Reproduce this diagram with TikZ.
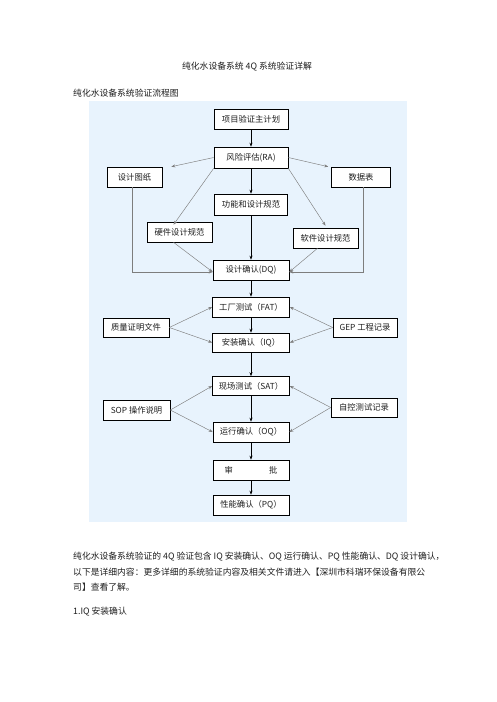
\documentclass[tikz,border=0pt]{standalone}
\usepackage{fontspec}
\setmainfont{Noto Sans CJK SC}
\usetikzlibrary{arrows.meta,calc}
\definecolor{bgblue}{RGB}{232,243,253}
\definecolor{edgegray}{RGB}{125,125,125}
\definecolor{inkc}{RGB}{30,30,30}
\begin{document}
\begin{tikzpicture}[x=1pt,y=-1pt,
  wh/.style 2 args={minimum width=#1,minimum height=#2},
  box/.style={draw=black,line width=0.6pt,fill=white,inner sep=0pt,text=inkc,font=\fontsize{8.3}{10}\selectfont},
  mainarrow/.style={-{Stealth[length=4pt,width=3pt]},line width=0.6pt,black},
  sidearrow/.style={-{Stealth[length=4pt,width=3pt]},line width=0.45pt,edgegray},
  txt/.style={inner sep=0pt,anchor=west,text=inkc,font=\fontsize{8.8}{10}\selectfont}]
\useasboundingbox (0,0) rectangle (496,702);
\fill[bgblue] (89,101) rectangle (407,522);

% texts
\node[inner sep=0pt,text=inkc,font=\fontsize{8.8}{10}\selectfont] (title) at (247,67) {纯化水设备系统 4Q 系统验证详解};
\node[txt] (sub) at (73,93) {纯化水设备系统验证流程图};
\node[txt] (p1) at (73,557) {纯化水设备系统验证的 4Q 验证包含 IQ 安装确认、OQ 运行确认、PQ 性能确认、DQ 设计确认，};
\node[txt] (p2) at (73,572) {以下是详细内容：更多详细的系统验证内容及相关文件请进入【深圳市科瑞环保设备有限公};
\node[txt] (p3) at (73,587) {司】查看了解。};
\node[txt] (h1) at (73,612) {1.IQ 安装确认};

% nodes
\node[box,wh={74pt}{20pt}] (plan) at (251,119) {项目验证主计划};
\node[box,wh={74pt}{21pt}] (ra) at (251,157.5) {风险评估(RA)};
\node[box,wh={55pt}{20pt}] (dwg) at (134.5,177) {设计图纸};
\node[box,wh={59pt}{20pt}] (data) at (361,177) {数据表};
\node[box,wh={73pt}{21pt}] (func) at (251,204.5) {功能和设计规范};
\node[box,wh={65pt}{20pt}] (hw) at (179.5,232) {硬件设计规范};
\node[box,wh={65pt}{20pt}] (sw) at (325.5,238) {软件设计规范};
\node[box,wh={76pt}{20pt}] (dq) at (251,270) {设计确认(DQ)};
\node[box,wh={77pt}{20pt}] (fat) at (251,307) {工厂测试（FAT）};
\node[box,wh={77pt}{19pt}] (iq) at (251,342.5) {安装确认（IQ）};
\node[box,wh={66pt}{19pt}] (qual) at (136,327.5) {质量证明文件};
\node[box,wh={64pt}{19pt}] (gep) at (365,327.5) {GEP 工程记录};
\node[box,wh={77pt}{19pt}] (sat) at (251,386) {现场测试（SAT）};
\node[box,wh={67pt}{20pt}] (sop) at (136.5,410) {SOP 操作说明};
\node[box,wh={66pt}{19pt}] (auto) at (364,407.5) {自控测试记录};
\node[box,wh={76pt}{20pt}] (oq) at (251,432) {运行确认（OQ）};
\node[box,wh={76pt}{20pt}] (appr) at (251,470) {审\hspace{36pt}批};
\node[box,wh={76pt}{20pt}] (pq) at (251,505) {性能确认（PQ）};

% main vertical arrows
\draw[mainarrow] (plan) -- (ra);
\draw[mainarrow] (ra) -- (func);
\draw[mainarrow] (func) -- (dq);
\draw[mainarrow] (dq) -- (fat);
\draw[mainarrow] (fat) -- (iq);
\draw[mainarrow] (iq) -- (sat);
\draw[mainarrow] (sat) -- (oq);
\draw[mainarrow] (oq) -- (appr);
\draw[mainarrow] (appr) -- (pq);

% side arrows
\draw[sidearrow] (ra.west) -- ($(dwg.north east)+(9,0)$);
\draw[sidearrow] (ra.east) -- ($(data.north west)+(-3,0)$);
\draw[sidearrow] (ra.south west) -- ($(hw.north)+(-6,3)$);
\draw[sidearrow] (ra.south east) -- ($(sw.north)+(0,-2)$);
\draw[sidearrow] ($(dwg.south)+(-2,0)$) |- ($(dq.west)+(0,2)$);
\draw[sidearrow] ($(data.south)+(2,0)$) |- ($(dq.east)+(0,2)$);
\draw[sidearrow] ($(hw.south)+(-6,0)$) -- ($(dq.west)+(0,2)$);
\draw[sidearrow] ($(sw.south)+(-8,0)$) -- ($(dq.east)+(0,2)$);

\draw[sidearrow] (qual.east) -- (fat.west);
\draw[sidearrow] (qual.east) -- (iq.west);
\draw[sidearrow] (gep.west) -- (fat.east);
\draw[sidearrow] (gep.west) -- (iq.east);
\draw[sidearrow] (sop.east) -- (sat.west);
\draw[sidearrow] (sop.east) -- (oq.west);
\draw[sidearrow] (auto.west) -- (sat.east);
\draw[sidearrow] (auto.west) -- (oq.east);
\end{tikzpicture}
\end{document}
